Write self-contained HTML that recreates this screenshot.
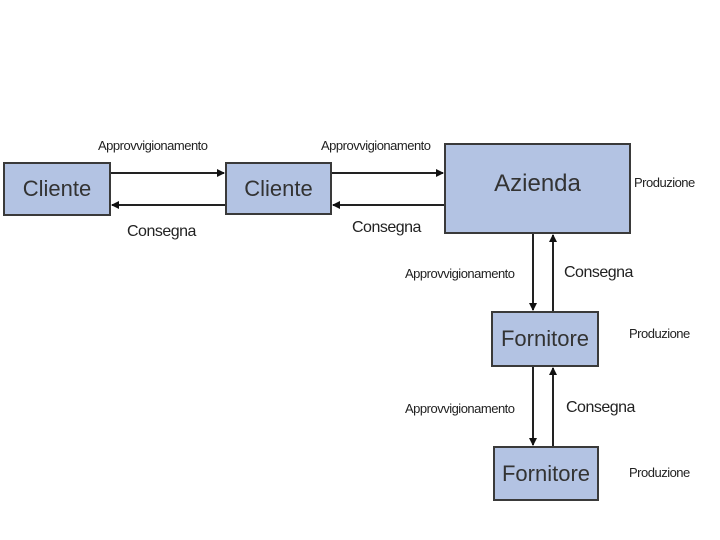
<!DOCTYPE html>
<html><head><style>
body{margin:0;width:720px;height:540px;background:#fff;position:relative;overflow:hidden;font-family:"Liberation Sans",sans-serif;}
.b{position:absolute;background:#b3c3e3;border:2px solid #3a3a3a;box-sizing:border-box;display:flex;align-items:center;justify-content:center;color:#333;font-size:22px;}
.t{position:absolute;font-size:13px;color:#222;white-space:nowrap;letter-spacing:-0.5px;}
</style></head><body>
<div class="b" style="left:3px;top:162px;width:108px;height:54px">Cliente</div>
<div class="b" style="left:225px;top:162px;width:107px;height:53px">Cliente</div>
<div class="b" style="left:444px;top:143px;width:187px;height:91px;font-size:24px;padding-bottom:10px">Azienda</div>
<div class="b" style="left:491px;top:311px;width:108px;height:56px">Fornitore</div>
<div class="b" style="left:493px;top:446px;width:106px;height:55px">Fornitore</div>
<svg width="720" height="540" style="position:absolute;left:0;top:0">
<defs><marker id="a" markerWidth="8" markerHeight="8" refX="7" refY="4" orient="auto" markerUnits="userSpaceOnUse"><path d="M0,0L8,4L0,8z" fill="#111"/></marker></defs>
<g stroke="#222" stroke-width="2" marker-end="url(#a)">
<line x1="111" y1="173" x2="224" y2="173"/>
<line x1="225" y1="205" x2="112" y2="205"/>
<line x1="332" y1="173" x2="443" y2="173"/>
<line x1="444" y1="205" x2="333" y2="205"/>
<line x1="533" y1="234" x2="533" y2="310"/>
<line x1="553" y1="311" x2="553" y2="235"/>
<line x1="533" y1="367" x2="533" y2="445"/>
<line x1="553" y1="446" x2="553" y2="368"/>
</g></svg>
<div class="t" style="left:98px;top:138px">Approvvigionamento</div>
<div class="t" style="left:127px;top:223px;font-size:16px">Consegna</div>
<div class="t" style="left:321px;top:138px">Approvvigionamento</div>
<div class="t" style="left:352px;top:219px;font-size:16px">Consegna</div>
<div class="t" style="left:634px;top:175px">Produzione</div>
<div class="t" style="left:405px;top:266px">Approvvigionamento</div>
<div class="t" style="left:564px;top:264px;font-size:16px">Consegna</div>
<div class="t" style="left:629px;top:326px">Produzione</div>
<div class="t" style="left:405px;top:401px">Approvvigionamento</div>
<div class="t" style="left:566px;top:399px;font-size:16px">Consegna</div>
<div class="t" style="left:629px;top:465px">Produzione</div>
</body></html>
